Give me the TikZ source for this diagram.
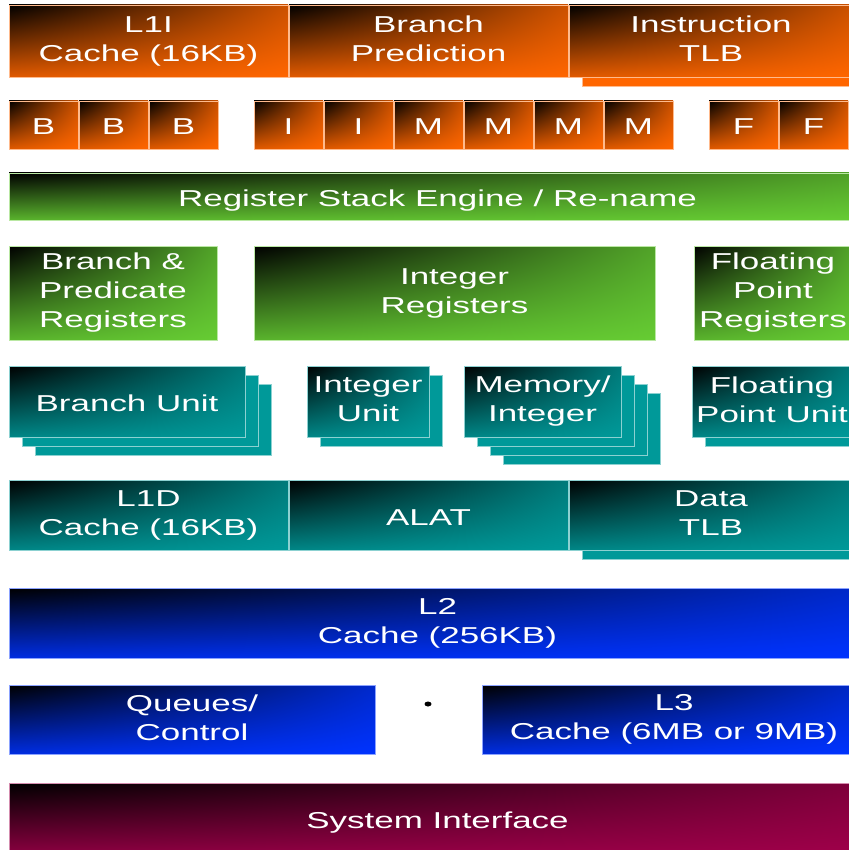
\documentclass[tikz,border=0pt]{standalone}
\usepackage{fontspec}
\newfontfamily\arialx[FakeStretch=1.52]{Liberation Sans}
\usetikzlibrary{shadings,shapes.geometric}
\definecolor{cOr}{HTML}{FF6600}
\definecolor{cGr}{HTML}{66CC33}
\definecolor{cTe}{HTML}{009999}
\definecolor{cBl}{HTML}{0033FF}
\definecolor{cMa}{HTML}{A0004A}
\newcommand\tstrut{\rule[-4.5pt]{0pt}{29pt}}
\newcommand\blk[7]{\node[box=#2, minimum width={#5pt-#3pt}, minimum height={#6pt-#4pt}] (#1) at ({(#3+#5)/2},{(#4+#6)/2}) {#7};}
\newcommand\shd[6]{\node[flat=#2, minimum width={#5pt-#3pt}, minimum height={#6pt-#4pt}] (#1) at ({(#3+#5)/2},{(#4+#6)/2}) {};}
\begin{document}
\begin{tikzpicture}[x=1pt,y=-1pt,
  every node/.style={inner sep=0pt, outer sep=0pt},
  box/.style={shade, upper left=black, upper right=#1!80!black, lower left=#1!88!black, lower right=#1,
    draw=#1!45!white, line width=0.6pt, text=white, font=\arialx\fontsize{23}{29}\selectfont,
    align=center, execute at begin node=\tstrut, execute at end node=\tstrut},
  flat/.style={fill=#1, draw=#1!45!white, line width=0.6pt}]
\useasboundingbox (0,0) rectangle (848,850);
\fill[white] (0,0) rectangle (848,850);
% row 1
\blk{l1i}{cOr}{9}{5}{288}{77}{L1I\\Cache (16KB)}
\blk{bp}{cOr}{289}{5}{568}{77}{Branch\\Prediction}
\shd{itlbs}{cOr}{582}{14}{866}{86}
\blk{itlb}{cOr}{569}{5}{853}{77}{Instruction\\TLB}
% row 2
\blk{b1}{cOr}{9}{101}{78}{149}{B}
\blk{b2}{cOr}{79}{101}{148}{149}{B}
\blk{b3}{cOr}{149}{101}{218}{149}{B}
\blk{i1}{cOr}{254}{101}{323}{149}{I}
\blk{i2}{cOr}{324}{101}{393}{149}{I}
\blk{m1}{cOr}{394}{101}{463}{149}{M}
\blk{m2}{cOr}{464}{101}{533}{149}{M}
\blk{m3}{cOr}{534}{101}{603}{149}{M}
\blk{m4}{cOr}{604}{101}{673}{149}{M}
\blk{f1}{cOr}{709}{101}{778}{149}{F}
\blk{f2}{cOr}{779}{101}{848}{149}{F}
% row 3
\blk{rse}{cGr}{9}{173}{866}{220}{Register Stack Engine / Re-name}
% row 4
\blk{bpr}{cGr}{9}{246}{217}{340}{Branch \&\\Predicate\\Registers}
\blk{ireg}{cGr}{254}{246}{655}{340}{Integer\\Registers}
\blk{fpr}{cGr}{694}{246}{852}{340}{Floating\\Point\\Registers}
% row 5
\shd{bus2}{cTe}{35}{384}{271}{455}
\shd{bus1}{cTe}{22}{375}{258}{446}
\blk{bu}{cTe}{9}{366}{245}{437}{Branch Unit}
\shd{ius1}{cTe}{320}{375}{442}{446}
\blk{iu}{cTe}{307}{366}{429}{437}{Integer\\Unit}
\shd{mis3}{cTe}{503}{393}{660}{464}
\shd{mis2}{cTe}{490}{384}{647}{455}
\shd{mis1}{cTe}{477}{375}{634}{446}
\blk{mi}{cTe}{464}{366}{621}{437}{Memory/\\Integer}
\shd{fpus}{cTe}{705}{375}{866}{446}
\blk{fpu}{cTe}{692}{366}{852}{437}{Floating\\Point Unit}
% row 6
\blk{l1d}{cTe}{9}{480}{288}{550}{L1D\\Cache (16KB)}
\blk{alat}{cTe}{289}{480}{568}{550}{ALAT}
\shd{dtlbs}{cTe}{582}{489}{866}{559}
\blk{dtlb}{cTe}{569}{480}{853}{550}{Data\\TLB}
% row 7
\blk{l2}{cBl}{9}{588}{866}{658}{L2\\Cache (256KB)}
% row 8
\blk{qc}{cBl}{9}{685}{375}{754}{Queues/\\Control}
\node[ellipse, fill=black, minimum width=7pt, minimum height=5pt] (dot) at (428,704) {};
\blk{l3}{cBl}{482}{685}{866}{754}{L3\\Cache (6MB or 9MB)}
% row 9
\blk{sys}{cMa}{9}{783}{866}{855}{System Interface}
\end{tikzpicture}
\end{document}
